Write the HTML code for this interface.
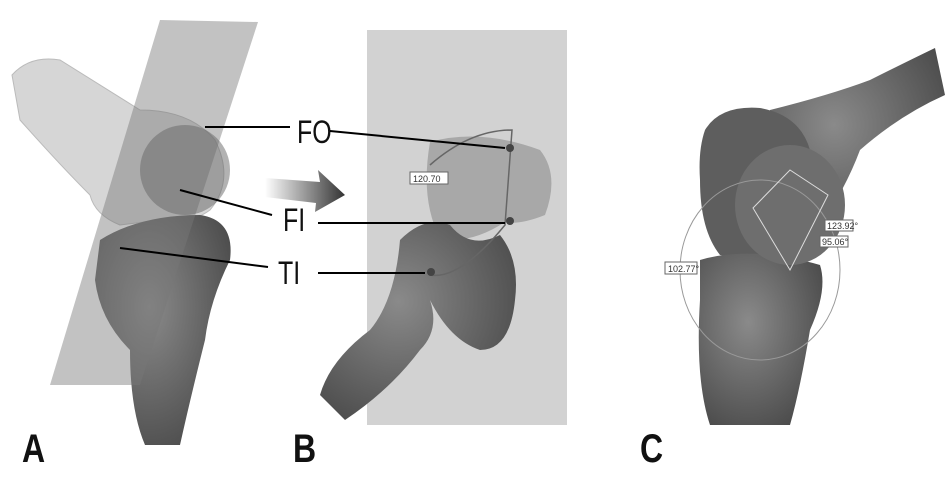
<!DOCTYPE html>
<html><head><style>
html,body{margin:0;padding:0;background:#fff;width:950px;height:489px;overflow:hidden}
svg text{font-family:"Liberation Sans",sans-serif}
</style></head><body>
<svg width="950" height="489" viewBox="0 0 950 489" xmlns="http://www.w3.org/2000/svg">
<defs>
<linearGradient id="arr" x1="0" x2="1"><stop offset="0" stop-color="#fff"/><stop offset="1" stop-color="#333"/></linearGradient>
<radialGradient id="bone" cx="0.4" cy="0.4" r="0.7"><stop offset="0" stop-color="#8a8a8a"/><stop offset="1" stop-color="#4a4a4a"/></radialGradient>
</defs>
<!-- Panel A -->
<path d="M12,75 Q30,55 60,60 L140,110 Q190,110 215,140 Q235,180 210,210 Q190,225 160,220 L120,225 Q95,215 90,195 Q60,165 20,120 Z" fill="#d6d6d6" stroke="#bbb"/>
<path d="M100,240 Q140,215 200,215 Q235,220 230,260 Q210,300 205,340 Q190,400 180,445 L145,445 Q130,410 130,350 Q100,320 95,280 Z" fill="url(#bone)"/>
<polygon points="160,20 258,22 140,385 50,385" fill="#777" opacity="0.45"/>
<circle cx="185" cy="170" r="45" fill="#666" opacity="0.5"/>
<!-- arrow -->
<polygon points="265,178 320,182 318,170 345,195 315,212 316,203 265,197" fill="url(#arr)"/>
<!-- Panel B -->
<rect x="367" y="30" width="200" height="395" fill="#d2d2d2"/>
<path d="M430,142 Q480,128 540,150 Q560,175 545,215 Q520,225 505,222 Q470,245 440,238 Q420,200 430,142Z" fill="#a8a8a8"/>
<path d="M400,240 Q425,215 450,225 Q470,250 500,235 Q520,260 515,300 Q510,350 480,350 Q450,340 430,300 Q440,330 420,350 Q390,390 345,420 L320,395 Q330,360 370,330 Q395,300 400,240Z" fill="url(#bone)"/>
<path d="M430,275 Q460,280 505,225 L512,130 Q470,130 430,165" fill="none" stroke="#666" stroke-width="1.5"/>
<circle cx="510" cy="148" r="4" fill="#444"/><circle cx="510" cy="221" r="4" fill="#444"/><circle cx="431" cy="272" r="4" fill="#444"/>
<rect x="410" y="172" width="38" height="12" fill="#fff" stroke="#666"/><text x="413" y="182" font-size="9" fill="#333">120.70</text>
<!-- labels -->
<g fill="#111" font-size="32"><text transform="translate(297,143) scale(0.78,1)">FO</text><text transform="translate(283,231) scale(0.78,1)">FI</text><text transform="translate(278,284) scale(0.78,1)">TI</text></g>
<g stroke="#000" stroke-width="2"><line x1="205" y1="127" x2="290" y2="127"/><line x1="180" y1="190" x2="272" y2="215"/><line x1="120" y1="248" x2="268" y2="267"/>
<line x1="330" y1="131" x2="505" y2="148"/><line x1="318" y1="223" x2="505" y2="223"/><line x1="318" y1="273" x2="425" y2="273"/></g>
<!-- Panel C -->
<path d="M770,110 Q830,95 870,80 Q910,60 935,48 L945,95 Q900,115 860,150 Q845,190 820,225 L760,240 Z" fill="url(#bone)"/>
<path d="M705,130 Q720,105 760,108 Q800,115 810,150 L800,250 Q760,265 720,255 Q700,230 700,180 Q698,150 705,130Z" fill="#5e5e5e"/>
<path d="M700,260 Q750,245 820,265 Q828,290 810,330 Q800,390 790,425 L710,425 Q695,380 700,300 Z" fill="url(#bone)"/>
<ellipse cx="790" cy="205" rx="55" ry="60" fill="#6e6e6e"/>
<ellipse cx="760" cy="270" rx="80" ry="90" fill="none" stroke="#999"/>
<path d="M753,208 L790,170 L828,195 L790,270 Z" fill="none" stroke="#ddd"/>
<rect x="825" y="220" width="28" height="11" fill="#fff" stroke="#666"/><text x="827" y="229" font-size="9" fill="#333">123.92°</text>
<rect x="820" y="236" width="28" height="11" fill="#fff" stroke="#666"/><text x="822" y="245" font-size="9" fill="#333">95.06°</text>
<rect x="665" y="262" width="32" height="12" fill="#fff" stroke="#666"/><text x="668" y="272" font-size="9" fill="#333">102.77°</text>
<!-- letters -->
<g font-size="40" font-weight="bold" fill="#111"><text transform="translate(22,462) scale(0.8,1)">A</text><text transform="translate(293,462) scale(0.8,1)">B</text><text transform="translate(640,462) scale(0.8,1)">C</text></g>
</svg>
</body></html>
